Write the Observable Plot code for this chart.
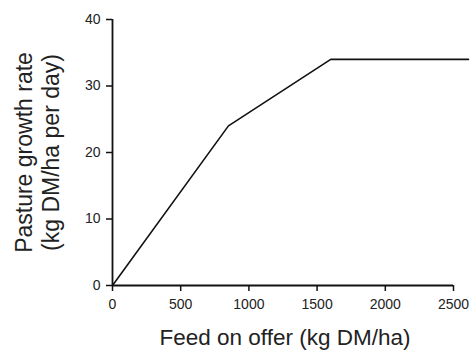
<!DOCTYPE html>
<html>
<head>
<meta charset="utf-8">
<script src="https://cdn.jsdelivr.net/npm/d3@7"></script>
<script src="https://cdn.jsdelivr.net/npm/@observablehq/plot@0.6"></script>
<style>
  html, body { margin: 0; padding: 0; background: #fff; }
  svg { display: block; }
</style>
</head>
<body>
<div id="chart"></div>
<script>
const feedOnOffer = [0, 850, 1600, 2610];
const growthRate = [0, 24, 34, 34];
const xTicks = [0, 500, 1000, 1500, 2000, 2500];
const yTicks = [0, 10, 20, 30, 40];
const xTitle = "Feed on offer (kg DM/ha)";
const yTitle = "Pasture growth rate\n(kg DM/ha per day)";

const data = feedOnOffer.map((x, i) => ({x, y: growthRate[i]}));
const font = "'Liberation Sans', Arial, Helvetica, sans-serif";

const chart = Plot.plot({
  width: 472,
  height: 350,
  marginLeft: 112,
  marginRight: 19,
  marginTop: 19,
  marginBottom: 65,
  style: {fontFamily: font, fontSize: "14px", color: "#222", background: "#fff"},
  x: {domain: [0, 2500]},
  y: {domain: [0, 40]},
  marks: [
    Plot.axisX({ticks: xTicks, tickFormat: d => String(d), tickSize: 6, tickPadding: 8, label: null, fontSize: 14, stroke: "#111", strokeWidth: 1.5, fill: "#222"}),
    Plot.axisY({ticks: yTicks, tickFormat: d => String(d), tickSize: 6, tickPadding: 6, label: null, fontSize: 14, stroke: "#111", strokeWidth: 1.5, fill: "#222"}),
    Plot.ruleY([0], {stroke: "#111", strokeWidth: 1.8}),
    Plot.ruleX([0], {stroke: "#111", strokeWidth: 1.8}),
    Plot.line(data, {x: "x", y: "y", stroke: "#111", strokeWidth: 1.6}),
    Plot.text([xTitle], {frameAnchor: "bottom", lineAnchor: "bottom", dy: 59.5, dx: 2, fontSize: 22.5, fill: "#222"}),
    Plot.text([yTitle], {frameAnchor: "left", rotate: -90, lineAnchor: "middle", textAnchor: "middle", lineHeight: 1.16, dx: -75.5, fontSize: 23, fill: "#222"})
  ]
});
document.getElementById("chart").appendChild(chart);
</script>
</body>
</html>
